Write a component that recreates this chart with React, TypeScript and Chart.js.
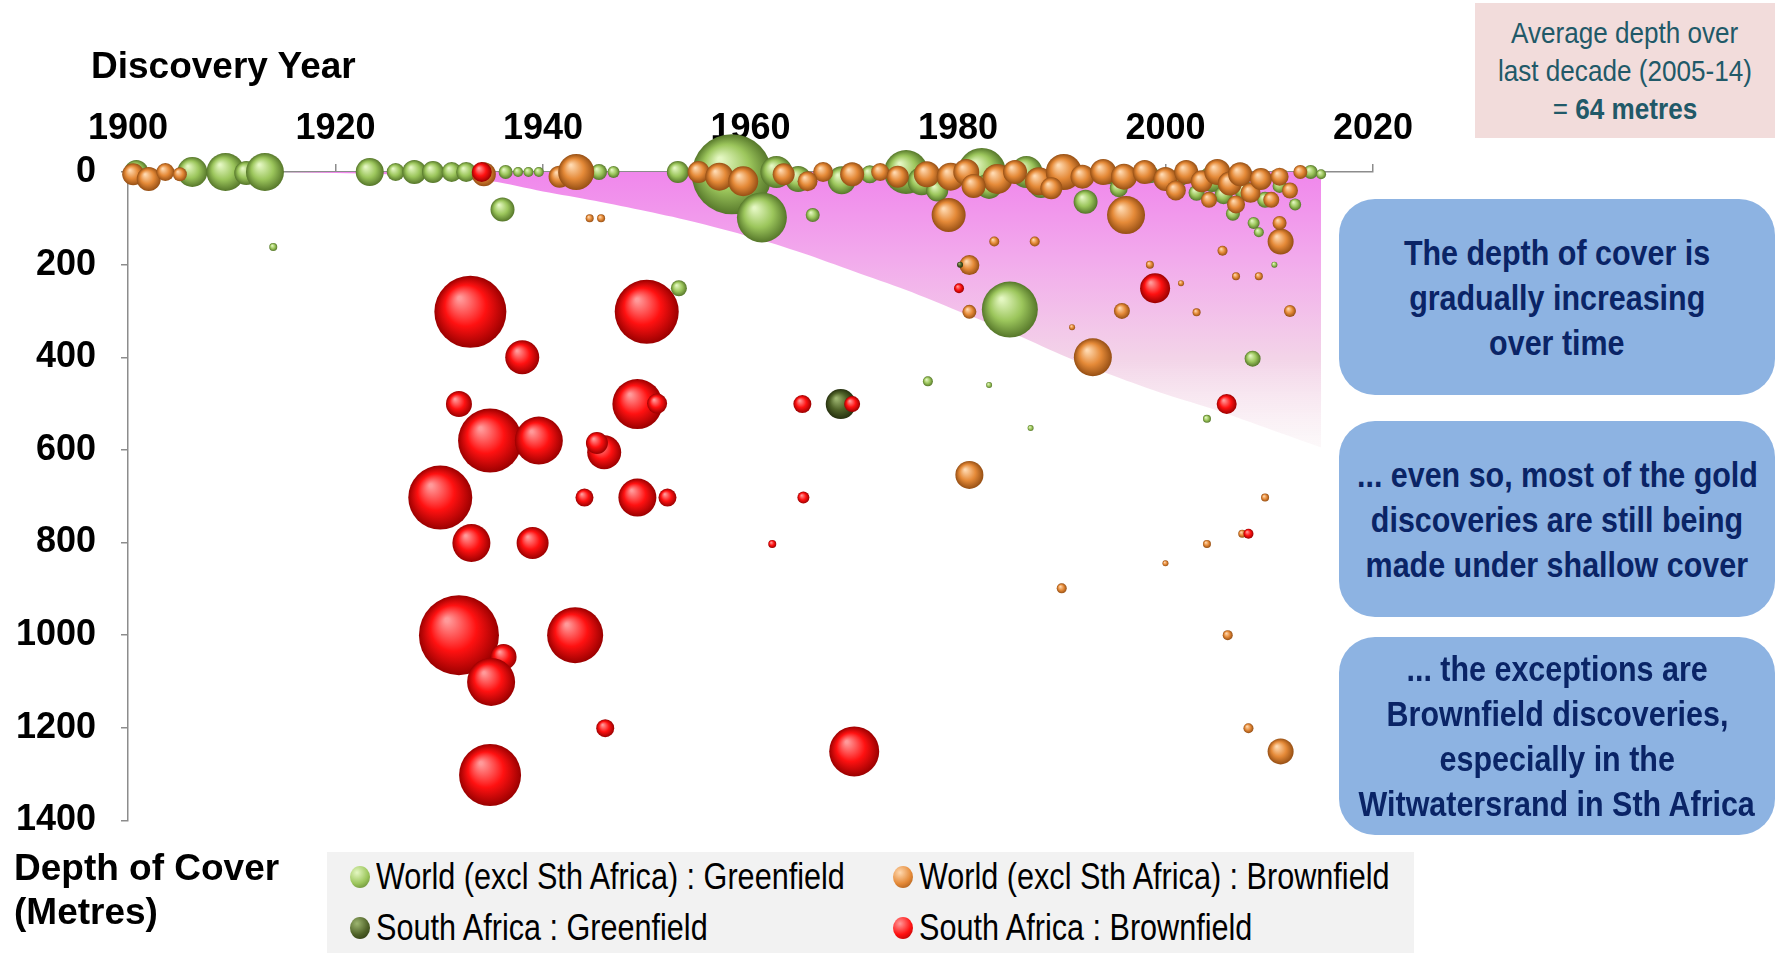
import React, { useEffect, useRef } from "react";
import { Chart, registerables } from "chart.js";

Chart.register(...registerables);

// Axis ticks
const yearTicks = [1900, 1920, 1940, 1960, 1980, 2000, 2020];
const depthTicks = [0, 200, 400, 600, 800, 1000, 1200, 1400];

// Each discovery: x = discovery year, y = depth of cover (m), r = bubble radius (px, deposit size)
const worldGreenfield = [
  { x: 1900.8, y: 0, r: 12 }, { x: 1906.2, y: 0, r: 15 }, { x: 1909.4, y: 0, r: 19 },
  { x: 1911.4, y: 2, r: 12 }, { x: 1913.2, y: 0, r: 19 }, { x: 1923.3, y: 0, r: 14 },
  { x: 1925.8, y: 0, r: 9 }, { x: 1927.6, y: 0, r: 12 }, { x: 1929.4, y: 0, r: 11 },
  { x: 1931.2, y: 0, r: 10 }, { x: 1932.6, y: 0, r: 10 }, { x: 1936.4, y: 0, r: 7 },
  { x: 1937.6, y: 0, r: 5 }, { x: 1938.6, y: 0, r: 5 }, { x: 1939.6, y: 0, r: 5 },
  { x: 1945.4, y: 0, r: 8 }, { x: 1946.8, y: 0, r: 6 }, { x: 1953.0, y: 0, r: 11 },
  { x: 1958.2, y: 5, r: 40 }, { x: 1961.1, y: 98, r: 25 }, { x: 1962.5, y: 0, r: 16 },
  { x: 1964.6, y: 15, r: 13 }, { x: 1966.0, y: 93, r: 7 }, { x: 1968.8, y: 18, r: 14 },
  { x: 1971.5, y: 5, r: 9 }, { x: 1975.0, y: 0, r: 22 }, { x: 1976.5, y: 20, r: 14 },
  { x: 1982.3, y: 0, r: 24 }, { x: 1983.0, y: 30, r: 13 }, { x: 1986.6, y: 0, r: 16 },
  { x: 1988.0, y: 30, r: 12 }, { x: 1992.3, y: 64, r: 12 }, { x: 1994.5, y: 5, r: 10 },
  { x: 1998.5, y: 5, r: 9 }, { x: 2001.5, y: 10, r: 9 }, { x: 2004.5, y: 15, r: 13 },
  { x: 2005.6, y: 50, r: 9 }, { x: 2006.5, y: 90, r: 7 }, { x: 2007.6, y: 40, r: 10 },
  { x: 2008.5, y: 110, r: 6 }, { x: 2009.6, y: 60, r: 8 }, { x: 2011.0, y: 30, r: 7 },
  { x: 2012.5, y: 70, r: 6 }, { x: 2014.0, y: 0, r: 7 }, { x: 2015.0, y: 5, r: 5 },
  { x: 1936.1, y: 81, r: 12 }, { x: 1914.0, y: 162, r: 4 }, { x: 1953.1, y: 251, r: 8 },
  { x: 1985.0, y: 297, r: 28 }, { x: 1977.1, y: 452, r: 5 }, { x: 1987.0, y: 553, r: 3 },
  { x: 2008.4, y: 403, r: 8 }, { x: 2004.0, y: 533, r: 4 }, { x: 1983.0, y: 460, r: 3 },
  { x: 1999.0, y: 245, r: 3 }, { x: 2010.5, y: 200, r: 3 }, { x: 1978.0, y: 40, r: 11 },
  { x: 1995.5, y: 35, r: 9 }, { x: 2003.0, y: 45, r: 8 }, { x: 2009.0, y: 130, r: 5 },
];

const worldBrownfield = [
  { x: 1900.5, y: 5, r: 11 }, { x: 1902.0, y: 15, r: 12 }, { x: 1903.6, y: 0, r: 9 },
  { x: 1905.0, y: 5, r: 7 }, { x: 1934.3, y: 5, r: 12 }, { x: 1941.6, y: 10, r: 11 },
  { x: 1943.2, y: 0, r: 18 }, { x: 1955.0, y: 0, r: 11 }, { x: 1957.0, y: 10, r: 14 },
  { x: 1959.3, y: 20, r: 15 }, { x: 1963.2, y: 5, r: 11 }, { x: 1967.0, y: 0, r: 10 },
  { x: 1969.8, y: 5, r: 12 }, { x: 1972.5, y: 0, r: 9 }, { x: 1974.2, y: 10, r: 11 },
  { x: 1977.0, y: 5, r: 13 }, { x: 1979.3, y: 10, r: 14 }, { x: 1980.8, y: 0, r: 13 },
  { x: 1983.8, y: 15, r: 15 }, { x: 1985.5, y: 0, r: 12 }, { x: 1987.8, y: 20, r: 14 },
  { x: 1990.2, y: 0, r: 18 }, { x: 1992.0, y: 10, r: 12 }, { x: 1994.0, y: 0, r: 13 },
  { x: 1996.0, y: 10, r: 13 }, { x: 1998.0, y: 0, r: 12 }, { x: 2000.0, y: 15, r: 12 },
  { x: 2002.0, y: 0, r: 12 }, { x: 2003.5, y: 20, r: 11 }, { x: 2005.0, y: 0, r: 13 },
  { x: 2006.2, y: 25, r: 12 }, { x: 2007.2, y: 5, r: 12 }, { x: 2008.2, y: 45, r: 10 },
  { x: 2009.2, y: 15, r: 11 }, { x: 2010.2, y: 60, r: 8 }, { x: 2011.0, y: 10, r: 9 },
  { x: 2012.0, y: 40, r: 8 }, { x: 2013.0, y: 0, r: 7 }, { x: 1981.5, y: 30, r: 12 },
  { x: 1989.0, y: 35, r: 11 }, { x: 2001.0, y: 40, r: 10 }, { x: 2006.8, y: 70, r: 9 },
  { x: 2004.2, y: 60, r: 8 }, { x: 1965.5, y: 20, r: 10 },
  { x: 1944.5, y: 100, r: 4 }, { x: 1945.6, y: 100, r: 4 }, { x: 1979.1, y: 93, r: 17 },
  { x: 1996.2, y: 93, r: 19 }, { x: 1981.1, y: 201, r: 10 }, { x: 1981.1, y: 302, r: 7 },
  { x: 1983.5, y: 150, r: 5 }, { x: 1987.4, y: 150, r: 5 }, { x: 1995.8, y: 300, r: 8 },
  { x: 2011.1, y: 150, r: 13 }, { x: 2012.0, y: 300, r: 6 }, { x: 1993.0, y: 400, r: 19 },
  { x: 1981.1, y: 654, r: 14 }, { x: 1990.0, y: 899, r: 5 }, { x: 2006.0, y: 1000, r: 5 },
  { x: 2008.0, y: 1201, r: 5 }, { x: 2011.1, y: 1251, r: 13 }, { x: 2000.0, y: 845, r: 3 },
  { x: 2009.6, y: 703, r: 4 }, { x: 2004.0, y: 803, r: 4 }, { x: 2007.4, y: 781, r: 4 },
  { x: 1998.5, y: 200, r: 4 }, { x: 2005.5, y: 170, r: 5 }, { x: 2006.8, y: 225, r: 4 },
  { x: 2009.0, y: 225, r: 4 }, { x: 2011.0, y: 110, r: 7 }, { x: 1991.0, y: 335, r: 3 },
  { x: 2001.5, y: 240, r: 3 }, { x: 2003.0, y: 303, r: 4 },
];

const saGreenfield = [
  { x: 1968.7, y: 501, r: 15 }, { x: 1980.2, y: 200, r: 3 },
];

const saBrownfield = [
  { x: 1933.0, y: 302, r: 36 }, { x: 1950.0, y: 302, r: 32 }, { x: 1938.0, y: 400, r: 17 },
  { x: 1931.9, y: 501, r: 13 }, { x: 1934.9, y: 580, r: 32 }, { x: 1939.6, y: 580, r: 24 },
  { x: 1949.1, y: 501, r: 25 }, { x: 1951.0, y: 500, r: 10 }, { x: 1945.9, y: 605, r: 17 },
  { x: 1945.2, y: 585, r: 11 }, { x: 1930.1, y: 703, r: 32 }, { x: 1933.1, y: 801, r: 19 },
  { x: 1939.0, y: 801, r: 16 }, { x: 1944.0, y: 703, r: 9 }, { x: 1949.1, y: 703, r: 19 },
  { x: 1952.0, y: 703, r: 9 }, { x: 1931.9, y: 1000, r: 40 }, { x: 1936.2, y: 1047, r: 13 },
  { x: 1935.0, y: 1101, r: 24 }, { x: 1943.1, y: 1000, r: 28 }, { x: 1946.0, y: 1201, r: 9 },
  { x: 1934.9, y: 1302, r: 31 }, { x: 1970.0, y: 1251, r: 25 }, { x: 1965.0, y: 501, r: 9 },
  { x: 1969.8, y: 501, r: 8 }, { x: 1965.1, y: 703, r: 6 }, { x: 1962.1, y: 803, r: 4 },
  { x: 1999.0, y: 251, r: 15 }, { x: 1980.1, y: 251, r: 5 }, { x: 2005.9, y: 501, r: 10 },
  { x: 2008.0, y: 781, r: 5 }, { x: 1934.1, y: 0, r: 10 },
];

// Lower edge of the shaded "typical depth of cover" band
const coverTrend = [
  { x: 1915, y: 0 }, { x: 1925, y: 5 }, { x: 1935, y: 20 }, { x: 1940, y: 42 },
  { x: 1945, y: 62 }, { x: 1950, y: 85 }, { x: 1955, y: 110 }, { x: 1960, y: 140 },
  { x: 1965, y: 175 }, { x: 1970, y: 215 }, { x: 1975, y: 255 }, { x: 1980, y: 300 },
  { x: 1985, y: 345 }, { x: 1990, y: 395 }, { x: 1995, y: 440 }, { x: 2000, y: 480 },
  { x: 2005, y: 515 }, { x: 2010, y: 555 }, { x: 2015, y: 595 },
];

// Sphere shading: highlight, body, rim
const sphereColors = {
  wg: ["#e4f7c2", "#9cc65c", "#56772a"],
  wb: ["#ffd9b0", "#e58a38", "#964f14"],
  sg: ["#9db570", "#4f6228", "#26310f"],
  sb: ["#ff9a9a", "#ff1111", "#9a0000"],
};

const sphereFill = (colors: string[]) => (ctx: any) => {
  const raw = ctx.raw;
  const chart = ctx.chart;
  if (!raw || !chart.scales || !chart.scales.x || !chart.scales.y) return colors[1];
  const cx = chart.scales.x.getPixelForValue(raw.x);
  const cy = chart.scales.y.getPixelForValue(raw.y);
  const r = Math.max(raw.r, 1);
  if (!isFinite(cx) || !isFinite(cy)) return colors[1];
  const g = chart.ctx.createRadialGradient(cx - r * 0.3, cy - r * 0.38, r * 0.05, cx, cy, r);
  g.addColorStop(0, colors[0]);
  g.addColorStop(0.55, colors[1]);
  g.addColorStop(1, colors[2]);
  return g;
};

const bandFill = (ctx: any) => {
  const chart = ctx.chart;
  const area = chart.chartArea;
  if (!area) return "rgba(240,150,235,0.8)";
  const y = chart.scales.y;
  const g = chart.ctx.createLinearGradient(0, y.getPixelForValue(0), 0, y.getPixelForValue(620));
  g.addColorStop(0, "rgba(240,135,236,1)");
  g.addColorStop(0.3, "rgba(242,170,236,1)");
  g.addColorStop(0.65, "rgba(243,212,232,1)");
  g.addColorStop(1, "rgba(250,245,245,0.4)");
  return g;
};

const TICK_FONT = { family: "'Liberation Sans', Arial, sans-serif", size: 36, weight: "bold" as const };

function DepthChart() {
  const ref = useRef<HTMLCanvasElement | null>(null);
  useEffect(() => {
    if (!ref.current) return;
    const bubble = (label: string, data: any[], colors: string[]) => ({
      type: "bubble" as const,
      label,
      data,
      backgroundColor: sphereFill(colors),
      borderWidth: 0,
      hoverBorderWidth: 0,
      clip: false as const,
    });
    const chart = new Chart(ref.current, {
      type: "bubble",
      data: {
        datasets: [
          bubble("South Africa : Brownfield", saBrownfield, sphereColors.sb),
          bubble("South Africa : Greenfield", saGreenfield, sphereColors.sg),
          bubble("World (excl Sth Africa) : Brownfield", worldBrownfield, sphereColors.wb),
          bubble("World (excl Sth Africa) : Greenfield", worldGreenfield, sphereColors.wg),
          {
            type: "line" as const,
            label: "trend",
            data: coverTrend,
            fill: { value: 0 },
            backgroundColor: bandFill,
            borderWidth: 0,
            pointRadius: 0,
            tension: 0.3,
            order: 10,
          } as any,
        ],
      },
      options: {
        animation: false,
        responsive: true,
        maintainAspectRatio: false,
        events: [],
        layout: { padding: { left: 0, top: 0, right: 29, bottom: 23 } },
        plugins: { legend: { display: false }, tooltip: { enabled: false } },
        scales: {
          x: {
            type: "linear",
            position: "top",
            min: 1900,
            max: 2020,
            afterBuildTicks: (s: any) => { s.ticks = yearTicks.map((v) => ({ value: v })); },
            afterFit: (s: any) => { s.height = 172; },
            ticks: { font: TICK_FONT, color: "#000", padding: 13, maxRotation: 0, callback: (v: any) => String(v) },
            grid: { drawOnChartArea: false, tickLength: 8, color: "#8c8c8c", lineWidth: 1.5 },
            border: { display: true, color: "#8c8c8c", width: 1.5 },
          },
          y: {
            type: "linear",
            reverse: true,
            min: 0,
            max: 1400,
            afterBuildTicks: (s: any) => { s.ticks = depthTicks.map((v) => ({ value: v })); },
            afterFit: (s: any) => { s.width = 128; },
            ticks: { font: TICK_FONT, color: "#000", padding: 25, callback: (v: any) => String(v) },
            grid: { drawOnChartArea: false, tickLength: 7, color: "#8c8c8c", lineWidth: 1.5 },
            border: { display: true, color: "#8c8c8c", width: 1.5 },
          },
        },
      } as any,
    });
    return () => chart.destroy();
  }, []);
  return (
    <div style={{ position: "absolute", left: 0, top: 0, width: 1426, height: 867 }}>
      <canvas ref={ref} />
    </div>
  );
}

const narrow = (scale: number, origin = "center"): React.CSSProperties => ({
  display: "inline-block",
  transform: `scaleX(${scale})`,
  transformOrigin: origin,
  whiteSpace: "nowrap",
});

const legendItems = [
  { label: "World (excl Sth Africa) : Greenfield", colors: sphereColors.wg, left: 350, top: 25 },
  { label: "World (excl Sth Africa) : Brownfield", colors: sphereColors.wb, left: 893, top: 25 },
  { label: "South Africa : Greenfield", colors: sphereColors.sg, left: 350, top: 76 },
  { label: "South Africa : Brownfield", colors: sphereColors.sb, left: 893, top: 76 },
];

const notes = [
  { top: 199, height: 196, lines: ["The depth of cover is", "gradually increasing", "over time"] },
  { top: 421, height: 196, lines: ["... even so, most of the gold", "discoveries are still being", "made under shallow cover"] },
  { top: 637, height: 198, lines: ["... the exceptions are", "Brownfield discoveries,", "especially in the", "Witwatersrand in Sth Africa"] },
];

export default function App() {
  const font = "'Liberation Sans', Arial, sans-serif";
  return (
    <div style={{ position: "absolute", left: 0, top: 0, width: 1775, height: 953, overflow: "hidden", background: "#fff", fontFamily: font }}>
      <DepthChart />
      <div style={{ position: "absolute", left: 91, top: 45, fontSize: 37, fontWeight: "bold", lineHeight: "42px", color: "#000" }}>
        Discovery Year
      </div>
      <div style={{ position: "absolute", left: 14, top: 846, fontSize: 37, fontWeight: "bold", lineHeight: "44px", color: "#000" }}>
        Depth of Cover<br />(Metres)
      </div>

      <div style={{ position: "absolute", left: 327, top: 852, width: 1087, height: 101, background: "#f2f2f2" }}>
        {legendItems.map((it) => (
          <div key={it.label} style={{ position: "absolute", left: it.left - 327, top: it.top - 20, height: 40, display: "flex", alignItems: "center" }}>
            <span style={{
              width: 20, height: 22, borderRadius: "50%", display: "inline-block",
              background: `radial-gradient(circle at 35% 30%, ${it.colors[0]} 0%, ${it.colors[1]} 55%, ${it.colors[2]} 100%)`,
            }} />
            <span style={{ ...narrow(0.85, "left"), marginLeft: 6, fontSize: 36, color: "#000", lineHeight: "40px" }}>{it.label}</span>
          </div>
        ))}
      </div>

      <div style={{
        position: "absolute", left: 1475, top: 3, width: 300, height: 135, background: "#f2dcdb",
        display: "flex", alignItems: "center", justifyContent: "center", textAlign: "center", color: "#215968",
      }}>
        <div style={{ fontSize: 30, lineHeight: "38px" }}>
          <span style={narrow(0.87)}>Average depth over</span><br />
          <span style={narrow(0.87)}>last decade (2005-14)</span><br />
          <span style={narrow(0.87)}>= <b>64 metres</b></span>
        </div>
      </div>

      {notes.map((n, i) => (
        <div key={i} style={{
          position: "absolute", left: 1339, top: n.top, width: 436, height: n.height, background: "#8db3e2",
          borderRadius: 36, display: "flex", alignItems: "center", justifyContent: "center", textAlign: "center",
          color: "#0a2466", fontWeight: "bold", zIndex: 2,
        }}>
          <div style={{ fontSize: 35, lineHeight: "45px" }}>
            {n.lines.map((l, j) => (
              <React.Fragment key={j}>
                <span style={narrow(0.87)}>{l}</span>
                {j < n.lines.length - 1 && <br />}
              </React.Fragment>
            ))}
          </div>
        </div>
      ))}
    </div>
  );
}
